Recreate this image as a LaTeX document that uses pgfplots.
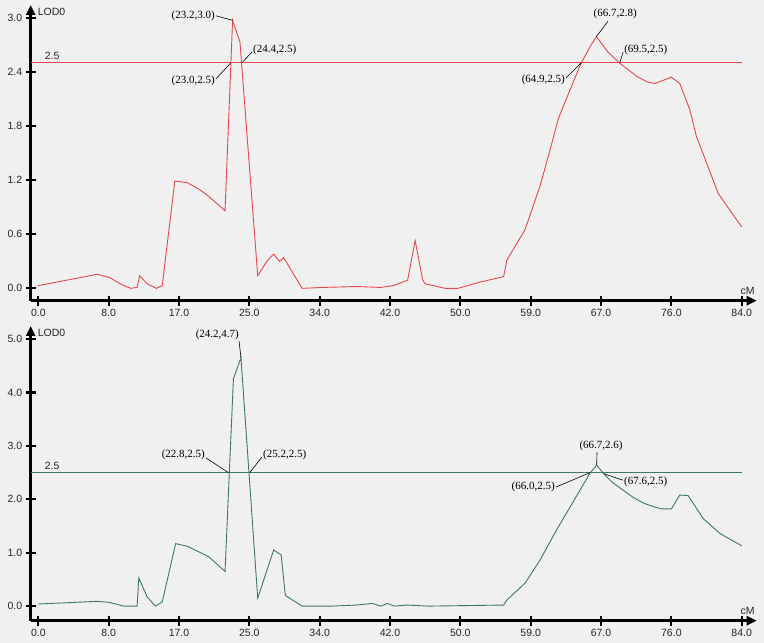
\documentclass[border=0pt]{standalone}
\usepackage{fontspec}
\setmainfont{Liberation Sans}
\newfontfamily\annfont{Liberation Serif}
\usepackage{pgfplots}
\pgfplotsset{compat=1.18}
\usetikzlibrary{arrows.meta}
\definecolor{bg}{HTML}{F0F0F0}
\definecolor{cred}{HTML}{E8474A}
\definecolor{cgreen}{HTML}{3C7864}
\tikzset{ann/.style={font=\annfont\fontsize{11}{13}\selectfont, inner sep=1pt}}
\pgfplotsset{
  qtl/.style={
    scale only axis, width=726pt, height=295.7pt,
    xmin=-0.91, xmax=85.79,
    axis lines=left,
    axis line style={line width=2.6pt, black, -{Triangle[length=10pt,width=9pt]}},
    tick align=center, major tick length=10pt,
    every tick/.style={line width=2.2pt, black},
    xtick={0,8.4,16.8,25.2,33.6,42,50.4,58.8,67.2,75.6,84},
    xticklabels={0.0,8.0,17.0,25.0,34.0,42.0,50.0,59.0,67.0,76.0,84.0},
    tick label style={font=\fontsize{10.5}{12}\selectfont, text=black!85},
    clip=false,
    every axis plot/.append style={line width=0.9pt},
  },
}
\begin{document}
\begin{tikzpicture}[x=1pt,y=1pt]
\useasboundingbox (0,0) rectangle (764,643);
\fill[bg] (0,0) rectangle (764,643);
% ---------------- top chart ----------------
\begin{axis}[qtl, at={(30.7pt,342.3pt)}, anchor=south west,
  ymin=-0.137, ymax=3.14,
  ytick={0,0.6,1.2,1.8,2.4,3.0},
  yticklabels={0.0,0.6,1.2,1.8,2.4,3.0}]
\addplot[cred] coordinates {(-0.91,2.5) (84,2.5)};
\addplot[cred] coordinates {
(0,0.03) (7.0,0.155) (8.5,0.12) (10.0,0.04) (11.0,0.0) (11.8,0.01) (12.1,0.14)
(13.0,0.05) (14.1,0.0) (14.8,0.03) (16.3,1.19) (17.8,1.17) (19.0,1.11) (20.2,1.03)
(22.3,0.86) (23.2,2.97) (24.08,2.73) (26.2,0.14) (27.3,0.30) (28.1,0.38) (28.8,0.30)
(29.3,0.34) (31.5,0.0) (34.0,0.01) (38.0,0.02) (40.9,0.01) (42.4,0.03) (44.1,0.09)
(45.0,0.53) (45.9,0.09) (46.2,0.05) (48.6,0.0) (50.1,0.0) (52.8,0.07) (55.57,0.13)
(55.94,0.31) (58.12,0.65) (59.9,1.13) (61.1,1.53) (62.1,1.88) (63.5,2.2) (64.8,2.49)
(65.9,2.68) (66.65,2.79) (68.0,2.62) (69.5,2.49) (71.46,2.35) (72.65,2.29) (73.64,2.27)
(75.6,2.34) (76.6,2.27) (77.8,1.98) (78.6,1.68) (79.8,1.39) (81.2,1.05) (84,0.68)};
\node[font=\fontsize{10.5}{12}\selectfont, anchor=south, inner sep=1pt, text=black!85] at (axis cs:1.64,2.52) {2.5};
\node[ann, anchor=east] (a1) at (axis cs:21.22,3.02) {(23.2,3.0)};
\draw[black, line width=0.6pt] (a1.east) -- (axis cs:23.2,2.97);
\node[ann, anchor=east] (a2) at (axis cs:21.22,2.30) {(23.0,2.5)};
\draw[black, line width=0.6pt] ([yshift=2pt]a2.east) -- (axis cs:23.0,2.5);
\node[ann, anchor=west] (a3) at (axis cs:25.52,2.64) {(24.4,2.5)};
\draw[black, line width=0.6pt] ([yshift=-2pt]a3.west) -- (axis cs:24.3,2.5);
\node[ann, anchor=south] (a4) at (axis cs:68.9,2.97) {(66.7,2.8)};
\draw[black, line width=0.6pt] (axis cs:68.03,2.96) -- (axis cs:66.65,2.79);
\node[ann, anchor=west] (a5) at (axis cs:69.83,2.64) {(69.5,2.5)};
\draw[black, line width=0.6pt] ([yshift=-2pt]a5.west) -- (axis cs:69.45,2.5);
\node[ann, anchor=east] (a6) at (axis cs:63.02,2.31) {(64.9,2.5)};
\draw[black, line width=0.6pt] ([yshift=2pt]a6.east) -- (axis cs:64.85,2.5);
\node[font=\fontsize{10.5}{12}\selectfont, anchor=north west, inner sep=0pt, text=black!85] at ([xshift=7pt,yshift=-3pt]rel axis cs:0,1) {LOD0};
\node[font=\fontsize{10.5}{12}\selectfont, anchor=south east, inner sep=0pt, text=black!85] at ([xshift=-2pt,yshift=6pt]rel axis cs:1,0) {cM};
\end{axis}
% ---------------- bottom chart ----------------
\begin{axis}[qtl, at={(30.7pt,22.3pt)}, anchor=south west,
  height=294.7pt,
  ymin=-0.273, ymax=5.245,
  ytick={0,1,2,3,4,5},
  yticklabels={0.0,1.0,2.0,3.0,4.0,5.0}]
\addplot[cgreen] coordinates {(-0.91,2.5) (84,2.5)};
\addplot[cgreen] coordinates {
(0,0.04) (3.0,0.06) (7.0,0.09) (8.5,0.07) (10.2,0.0) (11.8,0.0) (12.0,0.53)
(13.0,0.17) (14.0,0.0) (14.8,0.08) (16.4,1.17) (17.8,1.12) (20.3,0.93) (22.3,0.65)
(23.3,4.26) (24.2,4.65) (26.2,0.15) (28.1,1.05) (29.0,0.96) (29.5,0.20) (31.5,0.0)
(35.0,0.0) (38.0,0.02) (39.9,0.05) (40.9,0.0) (41.7,0.05) (42.5,0.0) (44.0,0.02)
(46.6,0.0) (55.57,0.02) (55.94,0.11) (58.12,0.43) (59.91,0.86) (61.9,1.43) (63.9,1.96)
(65.88,2.49) (66.68,2.64) (67.47,2.49) (68.6,2.31) (69.86,2.17) (71.0,2.04) (72.25,1.93)
(73.3,1.87) (74.45,1.82) (75.6,1.82) (76.6,2.08) (77.6,2.07) (79.4,1.64) (81.4,1.36)
(84,1.13)};
\node[font=\fontsize{10.5}{12}\selectfont, anchor=south, inner sep=1pt, text=black!85] at (axis cs:1.64,2.53) {2.5};
\node[ann, anchor=east] (b1) at (axis cs:24.09,5.08) {(24.2,4.7)};
\draw[black, line width=0.6pt] ([xshift=-1pt]b1.south east) -- (axis cs:24.2,4.65);
\node[ann, anchor=east] (b2) at (axis cs:20.03,2.83) {(22.8,2.5)};
\draw[black, line width=0.6pt] ([yshift=-3pt]b2.east) -- (axis cs:22.7,2.5);
\node[ann, anchor=west] (b3) at (axis cs:26.71,2.83) {(25.2,2.5)};
\draw[black, line width=0.6pt] ([yshift=-2pt]b3.west) -- (axis cs:25.25,2.5);
\node[ann, anchor=south] (b4) at (axis cs:67.2,2.88) {(66.7,2.6)};
\draw[black, line width=0.6pt] (axis cs:66.72,2.88) -- (axis cs:66.68,2.64);
\node[ann, anchor=east] (b5) at (axis cs:61.82,2.23) {(66.0,2.5)};
\draw[black, line width=0.6pt] (b5.east) -- (axis cs:65.9,2.5);
\node[ann, anchor=west] (b6) at (axis cs:69.82,2.32) {(67.6,2.5)};
\draw[black, line width=0.6pt] ([yshift=2pt]b6.west) -- (axis cs:67.5,2.48);
\node[font=\fontsize{10.5}{12}\selectfont, anchor=north west, inner sep=0pt, text=black!85] at ([xshift=7pt,yshift=-3pt]rel axis cs:0,1) {LOD0};
\node[font=\fontsize{10.5}{12}\selectfont, anchor=south east, inner sep=0pt, text=black!85] at ([xshift=-2pt,yshift=6pt]rel axis cs:1,0) {cM};
\end{axis}
\end{tikzpicture}
\end{document}
